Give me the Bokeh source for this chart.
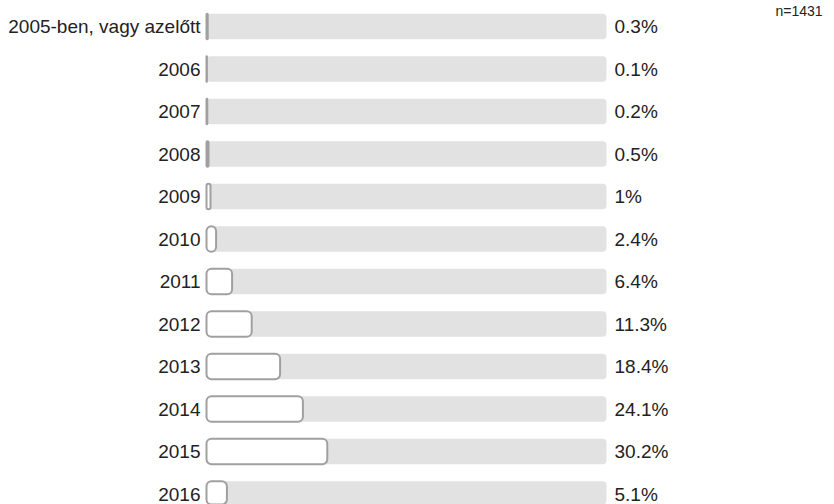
from bokeh.plotting import figure
from bokeh.models import Range1d, ColumnDataSource
from bokeh.core.properties import value
from bokeh.embed import file_html
from bokeh.resources import INLINE

categories = ["2005-ben, vagy azelőtt", "2006", "2007", "2008", "2009", "2010",
              "2011", "2012", "2013", "2014", "2015", "2016"]
percents = [0.3, 0.1, 0.2, 0.5, 1, 2.4, 6.4, 11.3, 18.4, 24.1, 30.2, 5.1]
value_labels = ["0.3%", "0.1%", "0.2%", "0.5%", "1%", "2.4%", "6.4%", "11.3%",
                "18.4%", "24.1%", "30.2%", "5.1%"]
n_label = "n=1431"

rows = list(range(len(categories)))
src = ColumnDataSource(dict(
    y=rows, cat=categories, val=percents, lab=value_labels,
    zero=[0] * len(rows), full=[100] * len(rows),
))

p = figure(width=834, height=504, output_backend="svg", toolbar_location=None,
           x_range=Range1d(-51.5, 157), y_range=Range1d(11.247, -0.6118),
           min_border=0, outline_line_color=None, background_fill_color="white")
p.axis.visible = False
p.grid.visible = False

font = value("Liberation Sans")

# track
p.hbar(y="y", left="zero", right="full", height=0.6, source=src,
       fill_color="#e2e2e2", line_color=None, border_radius=4)
# value bars
p.hbar(y="y", left="zero", right="val", height=0.6, source=src,
       fill_color="white", line_color="#a0a0a0", line_width=2, border_radius=5)

p.text(x=-1.5, y="y", text="cat", source=src, text_align="right",
       text_baseline="middle", text_font=font, text_font_size="19px",
       text_color="#222222")
p.text(x=102, y="y", text="lab", source=src, text_align="left",
       text_baseline="middle", text_font=font, text_font_size="19px",
       text_color="#222222")
p.text(x=[142.25], y=[-0.37], text=[n_label], text_align="left",
       text_baseline="middle", text_font=font, text_font_size="14px",
       text_color="#222222")

open("out.html", "w").write(file_html(p, INLINE))
